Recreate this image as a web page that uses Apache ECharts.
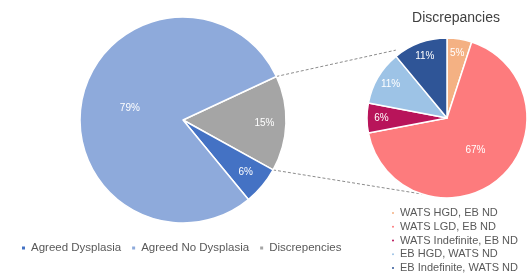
<!DOCTYPE html>
<html>
<head>
<meta charset="utf-8">
<script src="https://cdn.jsdelivr.net/npm/echarts@6/dist/echarts.min.js"></script>
<style>
html, body { margin: 0; padding: 0; background: #fff; }
#chart { width: 530px; height: 279px; }
</style>
</head>
<body>
<div id="chart"></div>
<script>
// main pie (order = drawing order, clockwise from the gray slice)
var mainNames = ['Discrepencies', 'Agreed Dysplasia', 'Agreed No Dysplasia'];
var mainValues = [15, 6, 79];
var mainColors = ['#a5a5a5', '#4472c4', '#8eaadb'];
var mainLegend = ['Agreed Dysplasia', 'Agreed No Dysplasia', 'Discrepencies'];

// discrepancies breakdown
var subNames = ['WATS HGD, EB ND', 'WATS LGD, EB ND', 'WATS Indefinite, EB ND', 'EB HGD, WATS ND', 'EB Indefinite, WATS ND'];
var subValues = [5, 67, 6, 11, 11];
var subColors = ['#f4b183', '#fd7b7d', '#b8145a', '#9dc3e6', '#2f5597'];

var chart = echarts.init(document.getElementById('chart'));

var mainC = [183, 120], mainR = 103;
var subC = [447, 118], subR = 80;

function items(names, values, colors) {
    return names.map(function (n, i) {
        return {
            name: n,
            value: values[i],
            itemStyle: { color: colors[i] },
            label: { show: values[i] > 50 }
        };
    });
}

// transparent copy, only used to place the small-slice labels further out
function labelOnly(names, values) {
    return names.map(function (n, i) {
        return {
            name: n,
            value: values[i],
            itemStyle: { color: 'rgba(0,0,0,0)' },
            label: { show: values[i] <= 50 }
        };
    });
}

var pctLabel = {
    position: 'inside',
    formatter: '{d}%',
    color: '#fff',
    fontSize: 10,
    fontFamily: 'Liberation Sans'
};

// dashed connectors between the gray slice and the right pie
function pt(c, r, deg) {
    var a = deg * Math.PI / 180;
    return [c[0] + r * Math.cos(a), c[1] - r * Math.sin(a)];
}
var topA = pt(mainC, mainR, 25), topB = pt(subC, subR + 5, 127);
var botA = pt(mainC, mainR, -29), botB = pt(subC, subR, -108);

option = {
    animation: false,
    title: {
        text: 'Discrepancies',
        left: 451,
        top: 6,
        textAlign: 'center',
        textStyle: { fontSize: 14, fontWeight: 'normal', color: '#404040', fontFamily: 'Liberation Sans' }
    },
    legend: [
        {
            data: mainLegend,
            left: 15,
            top: 237,
            icon: 'rect',
            itemWidth: 5,
            itemHeight: 5,
            itemGap: 9,
            selectedMode: false,
            textStyle: { fontSize: 11.5, color: '#595959', fontFamily: 'Liberation Sans' }
        },
        {
            data: subNames,
            orient: 'vertical',
            left: 390,
            top: 206,
            padding: 0,
            icon: 'circle',
            itemWidth: 4,
            itemHeight: 4,
            itemGap: 0,
            selectedMode: false,
            textStyle: { fontSize: 11, lineHeight: 13.8, color: '#595959', fontFamily: 'Liberation Sans' }
        }
    ],
    graphic: [
        {
            type: 'line', z: 1,
            shape: { x1: topA[0], y1: topA[1], x2: topB[0], y2: topB[1] },
            style: { stroke: '#8c8c8c', lineWidth: 1, lineDash: [3, 2] }
        },
        {
            type: 'line', z: 1,
            shape: { x1: botA[0], y1: botA[1], x2: botB[0], y2: botB[1] },
            style: { stroke: '#8c8c8c', lineWidth: 1, lineDash: [3, 2] }
        }
    ],
    series: [
        {
            type: 'pie',
            center: mainC,
            radius: [0, mainR],
            startAngle: 25,
            clockwise: true,
            avoidLabelOverlap: false,
            itemStyle: { borderColor: '#fff', borderWidth: 1.5 },
            label: pctLabel,
            labelLine: { show: false },
            emphasis: { disabled: true },
            data: items(mainNames, mainValues, mainColors)
        },
        {
            type: 'pie',
            center: mainC,
            radius: [54, mainR],
            startAngle: 25,
            clockwise: true,
            silent: true,
            avoidLabelOverlap: false,
            label: pctLabel,
            labelLine: { show: false },
            emphasis: { disabled: true },
            data: labelOnly(mainNames, mainValues)
        },
        {
            type: 'pie',
            center: subC,
            radius: [0, subR],
            startAngle: 90,
            clockwise: true,
            avoidLabelOverlap: false,
            itemStyle: { borderColor: '#fff', borderWidth: 1.5 },
            label: pctLabel,
            labelLine: { show: false },
            emphasis: { disabled: true },
            data: items(subNames, subValues, subColors)
        },
        {
            type: 'pie',
            center: subC,
            radius: [45, subR],
            startAngle: 90,
            clockwise: true,
            silent: true,
            avoidLabelOverlap: false,
            label: pctLabel,
            labelLine: { show: false },
            emphasis: { disabled: true },
            data: labelOnly(subNames, subValues)
        }
    ]
};

chart.setOption(option);
window.onresize = function () {
    chart.resize();
};
</script>
</body>
</html>
